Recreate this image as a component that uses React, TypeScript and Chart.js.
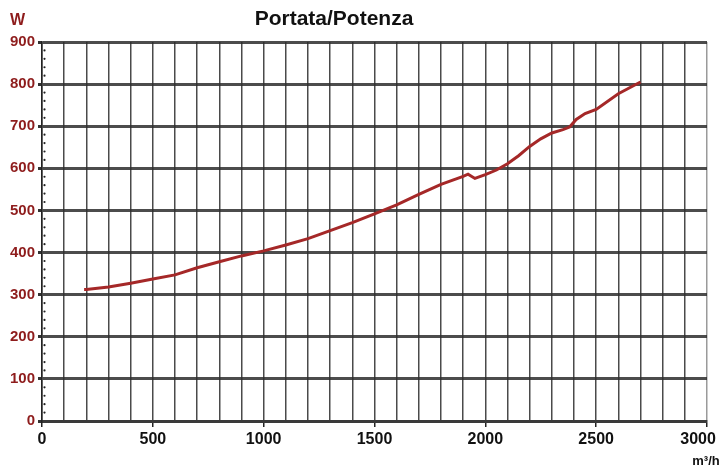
import React, { useEffect, useRef } from "react";
import { Chart, registerables } from "chart.js";

Chart.register(...registerables);

const flowValues: number[] = [190, 200, 300, 400, 500, 600, 700, 800, 900, 1000, 1100, 1200, 1300, 1400, 1500, 1600, 1700, 1800, 1900, 1922, 1953, 2000, 2050, 2100, 2150, 2200, 2250, 2300, 2350, 2380, 2410, 2450, 2500, 2600, 2700];
const powerValues: number[] = [312, 312, 318, 327, 337, 347, 364, 378, 392, 404, 418, 433, 452, 471, 492, 513, 538, 562, 581, 586, 576, 585, 596, 611, 630, 652, 670, 684, 692, 698, 716, 730, 740, 777, 805];

const titleText = "Portata/Potenza";
const yUnit = "W";
const xUnit = "m³/h";
const xMax = 3000;
const yMax = 900;

const FONT = "'Liberation Sans', Arial, sans-serif";
const RED = "#8e1c1c";

const textPlugin = {
  id: "texts",
  afterDraw(chart: any) {
    const ctx = chart.ctx;
    ctx.save();
    ctx.textBaseline = "middle";
    ctx.textAlign = "center";
    ctx.fillStyle = RED;
    ctx.font = `bold 16px ${FONT}`;
    ctx.fillText(yUnit, 17.5, 21);
    ctx.fillStyle = "#111";
    ctx.font = `bold 21px ${FONT}`;
    ctx.fillText(titleText, 334, 19.5);
    ctx.font = `bold 13px ${FONT}`;
    ctx.fillText(xUnit, 706, 461);
    ctx.restore();
  },
};

const minorDotsPlugin = {
  id: "minorDots",
  afterDatasetsDraw(chart: any) {
    const y = chart.scales.y;
    const ctx = chart.ctx;
    ctx.save();
    ctx.fillStyle = "#222";
    for (let v = 0; v < yMax; v += 20) {
      if (v % 100 === 0) continue;
      const py = y.getPixelForValue(v);
      ctx.beginPath();
      ctx.arc(chart.chartArea.left + 2.5, py, 1.1, 0, Math.PI * 2);
      ctx.fill();
    }
    ctx.restore();
  },
};

export default function App() {
  const ref = useRef<HTMLCanvasElement | null>(null);

  useEffect(() => {
    if (!ref.current) return;
    const chart = new Chart(ref.current, {
      type: "line",
      data: {
        datasets: [
          {
            data: flowValues.map((x, i) => ({ x, y: powerValues[i] })),
            borderColor: "#a52828",
            borderWidth: 3,
            pointRadius: 0,
            tension: 0,
            fill: false,
          },
        ],
      },
      options: {
        animation: false,
        responsive: false,
        layout: { padding: { left: 0, right: 16, top: 42, bottom: 0 } },
        plugins: {
          legend: { display: false },
          title: { display: false },
          tooltip: { enabled: false },
        },
        scales: {
          x: {
            type: "linear",
            min: 0,
            max: xMax,
            afterFit(scale: any) {
              scale.paddingLeft = 0;
              scale.paddingRight = 0;
              scale.height = 47;
            },
            ticks: {
              stepSize: 100,
              autoSkip: false,
              maxRotation: 0,
              padding: 3,
              color: "#111",
              font: { family: FONT, size: 16, weight: "bold" },
              callback: (v: any) => {
                const n = Number(v);
                if (n % 500 !== 0) return "";
                return n === xMax ? String(n) + "    " : String(n);
              },
            },
            grid: {
              color: (c: any) => (c.tick && c.tick.value === xMax ? "#9a9a9a" : "#4a4a4a"),
              lineWidth: 1.5,
              tickLength: 6,
              tickColor: (c: any) => (c.tick && c.tick.value % 500 === 0 ? "#222" : "rgba(0,0,0,0)"),
            },
            border: { display: true, color: "#3a3a3a", width: 3 },
          },
          y: {
            min: 0,
            max: yMax,
            afterFit(scale: any) {
              scale.width = 42;
            },
            ticks: {
              stepSize: 100,
              padding: 3,
              color: RED,
              font: { family: FONT, size: 15, weight: "bold" },
            },
            grid: {
              color: "rgba(45,45,45,0.85)",
              lineWidth: 3,
              tickLength: 4,
              tickColor: "#333",
            },
            border: { display: true, color: "#222", width: 1.5 },
          },
        },
      },
      plugins: [minorDotsPlugin, textPlugin],
    } as any);
    return () => chart.destroy();
  }, []);

  return (
    <div style={{ position: "absolute", left: 0, top: 0, width: 723, height: 468, background: "#fff" }}>
      <canvas ref={ref} width={723} height={468} />
    </div>
  );
}
